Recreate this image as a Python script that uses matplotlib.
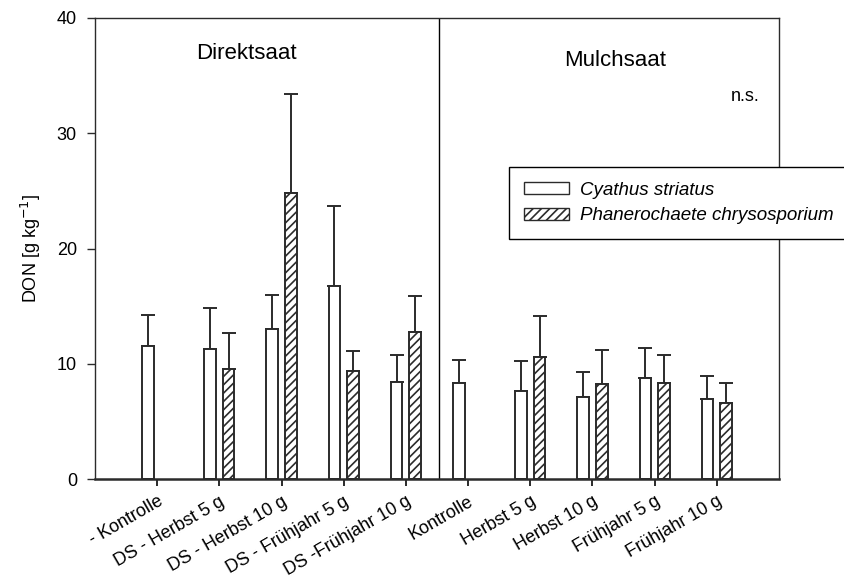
import numpy as np
import matplotlib.pyplot as plt
from matplotlib.patches import Patch

plt.rcParams['font.family'] = ['Liberation Sans', 'DejaVu Sans']
plt.rcParams['hatch.linewidth'] = 1.2

# --- Daten: DON-Gehalt je Variante ---
kategorien = ['- Kontrolle', 'DS - Herbst 5 g', 'DS - Herbst 10 g', 'DS - Frühjahr 5 g',
              'DS -Frühjahr 10 g', 'Kontrolle', 'Herbst 5 g', 'Herbst 10 g',
              'Frühjahr 5 g', 'Frühjahr 10 g']

cyathus = [11.55, 11.3, 13.0, 16.75, 8.45, 8.3, 7.65, 7.1, 8.75, 6.9]
cyathus_sd = [2.65, 3.55, 3.0, 6.95, 2.3, 2.05, 2.6, 2.2, 2.6, 2.05]

phanero = [np.nan, 9.55, 24.85, 9.35, 12.75, np.nan, 10.6, 8.25, 8.35, 6.6]
phanero_sd = [np.nan, 3.1, 8.55, 1.75, 3.1, np.nan, 3.55, 2.95, 2.4, 1.7]

x = np.arange(len(kategorien))
breite = 0.185
versatz = 0.15
kante = '#2b2b2b'

fig = plt.figure(figsize=(8.44, 5.83), dpi=100)
ax = fig.add_axes([95 / 844, 104 / 583, 684 / 844, 461 / 583])

ax.bar(x - versatz, cyathus, breite, color='white', edgecolor=kante, linewidth=1.4, zorder=2)
ax.bar(x + versatz, phanero, breite, color='white', edgecolor=kante, linewidth=1.4,
       hatch='////', zorder=2)

# nur obere Fehlerbalken
ax.errorbar(x - versatz, cyathus, yerr=[np.zeros(len(x)), cyathus_sd], fmt='none',
            ecolor=kante, elinewidth=1.4, capsize=5, capthick=1.4, zorder=1)
ax.errorbar(x + versatz, phanero, yerr=[np.zeros(len(x)), phanero_sd], fmt='none',
            ecolor=kante, elinewidth=1.4, capsize=5, capthick=1.4, zorder=1)

# Trennlinie zwischen Direkt- und Mulchsaat
ax.axvline(4.53, color='black', linewidth=1.0)

ax.set_xlim(-1, 10)
ax.set_ylim(0, 40)
ax.set_yticks([0, 10, 20, 30, 40])
ax.set_xticks(x)
ax.set_xticklabels(kategorien, rotation=30, ha='right', rotation_mode='anchor', fontsize=13)
ax.tick_params(axis='y', labelsize=13, length=6, width=1.0, direction='out', color=kante, pad=7)
ax.tick_params(axis='x', length=5, width=1.4, direction='out', color=kante, pad=5)
ax.set_ylabel('DON [g kg$^{-1}$]', fontsize=13)
ax.yaxis.set_label_coords(-0.076, 0.5)

for s in ['top', 'right', 'left']:
    ax.spines[s].set_linewidth(1.0)
    ax.spines[s].set_color(kante)
ax.spines['bottom'].set_linewidth(1.8)
ax.spines['bottom'].set_color(kante)

ax.text(1.44, 36.9, 'Direktsaat', ha='center', va='center', fontsize=16)
ax.text(7.36, 36.35, 'Mulchsaat', ha='center', va='center', fontsize=16)
ax.text(9.69, 33.2, 'n.s.', ha='right', va='center', fontsize=13)

handles = [Patch(facecolor='white', edgecolor=kante, linewidth=1.0),
           Patch(facecolor='white', edgecolor=kante, linewidth=1.0, hatch='////')]
leg = fig.legend(handles, ['Cyathus striatus', 'Phanerochaete chrysosporium'],
                 loc='upper left', bbox_to_anchor=(509 / 844, 1 - 167 / 583),
                 prop={'style': 'italic', 'size': 13.5}, frameon=True, fancybox=False,
                 edgecolor='black', framealpha=1, borderpad=0.8, handlelength=2.4,
                 handleheight=0.6, handletextpad=0.6, labelspacing=0.45,
                 borderaxespad=0)
leg.get_frame().set_linewidth(1.0)

fig.savefig('out.png', dpi=100)
